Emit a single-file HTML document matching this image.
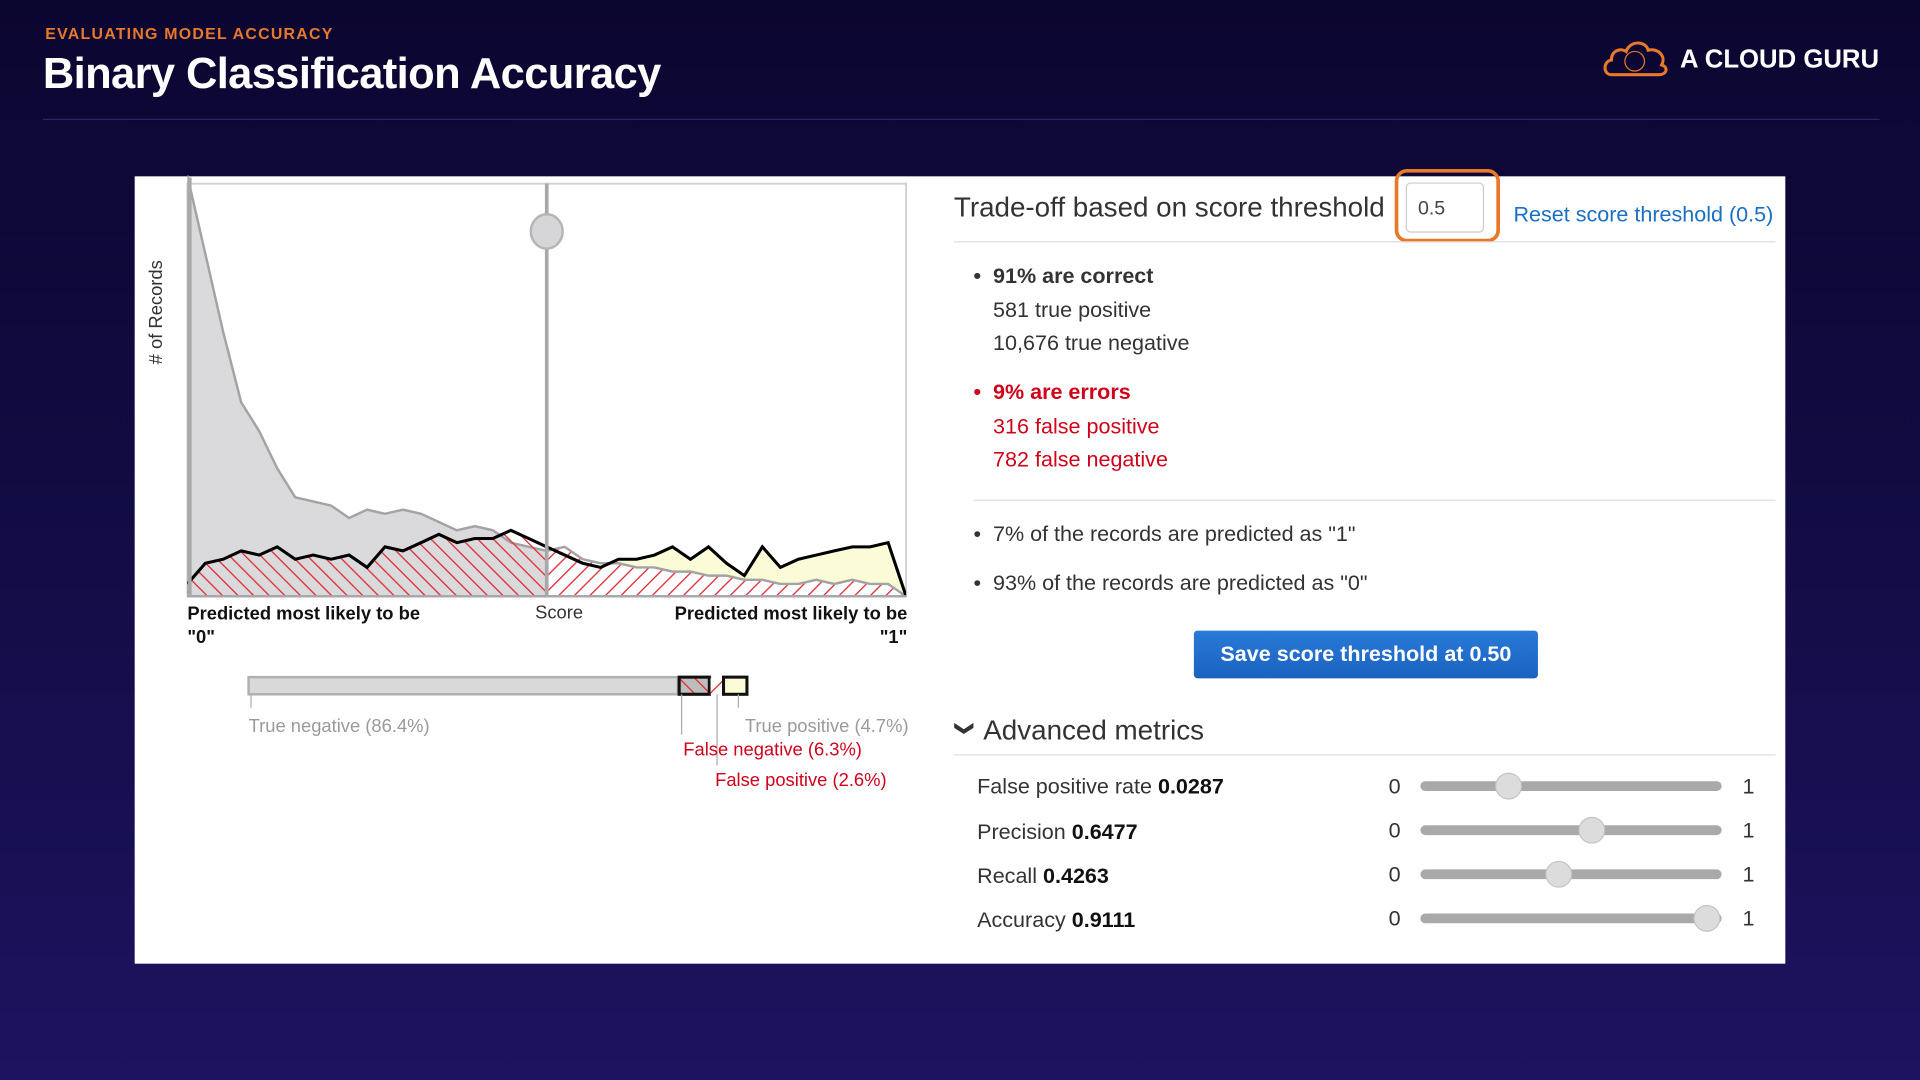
<!DOCTYPE html>
<html><head><meta charset="utf-8"><style>
html,body{margin:0;padding:0;width:1920px;height:1080px;overflow:hidden;background:#120c40;}
#stage{position:absolute;left:0;top:0;width:1568px;height:882px;transform:scale(1.22449);transform-origin:0 0;background:linear-gradient(180deg,#0b0630 0%,#130c45 50%,#1d1360 100%);font-family:"Liberation Sans",Arial,sans-serif;}
.abs{position:absolute;white-space:nowrap;}
.txt{font-size:17.6px;color:#333;}
.red{color:#d0021b;}
.hr{position:absolute;height:1px;background:#ddd;}
.track{position:absolute;left:1160px;width:246px;height:8px;border-radius:4px;background:#a9a9a9;}
.knob{position:absolute;width:20px;height:20px;border-radius:50%;background:#dcdcdc;border:1px solid #c4c4c4;margin-left:-11px;top:-7px;}
</style></head><body>
<div id="stage">
  <div class="abs" style="left:37px;top:20px;color:#e8782a;font-weight:bold;font-size:13px;letter-spacing:1px;">EVALUATING MODEL ACCURACY</div>
  <div class="abs" style="left:35px;top:40px;color:#fff;font-weight:bold;font-size:35.5px;letter-spacing:-0.5px;">Binary Classification Accuracy</div>
  <svg class="abs" style="left:1308px;top:30px;" width="56" height="34" viewBox="0 0 56 34">
    <path d="M8 31 C1 31 1 20 8 19 C8 11 16 9 20 12 C23 3 36 3 38 11 C46 9 53 16 49 23 C55 25 53 31 47 31 Z" fill="none" stroke="#e8782a" stroke-width="2.5"/>
    <circle cx="27" cy="20" r="8" fill="none" stroke="#e8782a" stroke-width="1"/>
  </svg>
  <div class="abs" style="left:1372px;top:37px;color:#fff;font-weight:bold;font-size:21px;">A CLOUD GURU</div>
  <div class="abs" style="left:35px;top:97px;width:1500px;height:1px;background:#2b2566;"></div>

  <div class="abs" style="left:110px;top:144px;width:1348px;height:643px;background:#fff;"></div>

  <svg class="abs" id="chart" style="left:0;top:0;" width="1568" height="882">
    <defs>
      <pattern id="hatchL" patternUnits="userSpaceOnUse" width="9" height="9" patternTransform="rotate(-45)">
        <rect width="9" height="9" fill="none"/><line x1="0" y1="0" x2="0" y2="9" stroke="#e0303a" stroke-width="2.2"/>
      </pattern>
      <pattern id="hatchR" patternUnits="userSpaceOnUse" width="9" height="9" patternTransform="rotate(45)">
        <rect width="9" height="9" fill="#fff"/><line x1="0" y1="0" x2="0" y2="9" stroke="#e0303a" stroke-width="2.2"/>
      </pattern>
      <clipPath id="clipL"><rect x="153" y="140" width="294" height="348"/></clipPath>
      <clipPath id="clipR"><rect x="447" y="140" width="293" height="348"/></clipPath>
    </defs>
  </svg>

  <div class="abs" style="left:128px;top:255px;font-size:15px;color:#333;transform:translate(-50%,-50%) rotate(-90deg);">#&nbsp;of Records</div>
  <div class="abs" style="left:153px;top:492px;font-size:15px;font-weight:bold;color:#111;line-height:19px;">Predicted most likely to be<br>"0"</div>
  <div class="abs" style="left:437px;top:492px;font-size:15px;color:#333;">Score</div>
  <div class="abs" style="left:520px;width:221px;top:492px;font-size:15px;font-weight:bold;color:#111;line-height:19px;text-align:right;">Predicted most likely to be<br>"1"</div>

  <svg class="abs" id="legendbar" style="left:0;top:0;" width="1568" height="882"></svg>
  <div class="abs" style="left:203px;top:585px;font-size:15px;color:#9a9a9a;">True negative (86.4%)</div>
  <div class="abs" style="left:560px;width:182px;text-align:right;top:585px;font-size:15px;color:#9a9a9a;">True positive (4.7%)</div>
  <div class="abs red" style="left:558px;top:604px;font-size:15px;">False negative (6.3%)</div>
  <div class="abs red" style="left:584px;top:629px;font-size:15px;">False positive (2.6%)</div>

  <div class="abs" style="left:779px;top:156px;font-size:22.7px;color:#333;width:362px;overflow:hidden;">Trade-off based on score threshold</div>
  <div class="abs" style="left:1139px;top:138px;width:80px;height:54px;border:3px solid #e8782a;border-radius:10px;"></div>
  <div class="abs" style="left:1148px;top:149px;width:64px;height:41px;border:1px solid #ccc;border-radius:4px;background:#fff;box-sizing:border-box;font-size:16px;color:#444;padding:12px 0 0 9px;">0.5</div>
  <div class="abs" style="left:1236px;top:165px;font-size:17.6px;color:#1a6fc4;">Reset score threshold (0.5)</div>
  <div class="hr" style="left:779px;top:197px;width:671px;"></div>

  <div class="abs txt" style="left:795px;top:215px;font-weight:bold;">•&nbsp; 91% are correct</div>
  <div class="abs txt" style="left:811px;top:243px;">581 true positive</div>
  <div class="abs txt" style="left:811px;top:270px;">10,676 true negative</div>
  <div class="abs txt red" style="left:795px;top:310px;font-weight:bold;color:#d0021b;">•&nbsp; 9% are errors</div>
  <div class="abs txt red" style="left:811px;top:338px;color:#d0021b;">316 false positive</div>
  <div class="abs txt red" style="left:811px;top:365px;color:#d0021b;">782 false negative</div>
  <div class="hr" style="left:795px;top:408px;width:655px;"></div>
  <div class="abs txt" style="left:795px;top:426px;">•&nbsp; 7% of the records are predicted as "1"</div>
  <div class="abs txt" style="left:795px;top:466px;">•&nbsp; 93% of the records are predicted as "0"</div>

  <div class="abs" style="left:975px;top:515px;width:281px;height:39px;background:linear-gradient(#2a7ad8,#1a62c0);border-radius:3px;color:#fff;font-weight:bold;font-size:17.6px;text-align:center;line-height:39px;">Save score threshold at 0.50</div>

  <div class="abs" style="left:781px;top:585px;font-size:15px;color:#333;transform:rotate(90deg);transform-origin:50% 55%;font-weight:bold;">&#10095;</div>
  <div class="abs" style="left:803px;top:583px;font-size:22.7px;color:#333;">Advanced metrics</div>
  <div class="hr" style="left:779px;top:616px;width:671px;"></div>

  <div class="abs txt" style="left:798px;top:632px;">False positive rate <b style="color:#111">0.0287</b></div>
  <div class="abs txt" style="left:798px;top:669px;">Precision <b style="color:#111">0.6477</b></div>
  <div class="abs txt" style="left:798px;top:705px;">Recall <b style="color:#111">0.4263</b></div>
  <div class="abs txt" style="left:798px;top:741px;">Accuracy <b style="color:#111">0.9111</b></div>

  <div class="abs txt" style="left:1134px;top:632px;">0</div>
  <div class="abs txt" style="left:1134px;top:668px;">0</div>
  <div class="abs txt" style="left:1134px;top:704px;">0</div>
  <div class="abs txt" style="left:1134px;top:740px;">0</div>
  <div class="abs txt" style="left:1423px;top:632px;">1</div>
  <div class="abs txt" style="left:1423px;top:668px;">1</div>
  <div class="abs txt" style="left:1423px;top:704px;">1</div>
  <div class="abs txt" style="left:1423px;top:740px;">1</div>

  <div class="track" style="top:638px;"><div class="knob" style="left:72px;"></div></div>
  <div class="track" style="top:674px;"><div class="knob" style="left:140px;"></div></div>
  <div class="track" style="top:710px;"><div class="knob" style="left:113px;"></div></div>
  <div class="track" style="top:746px;"><div class="knob" style="left:234px;"></div></div>
</div>
<script>
// score bins (0..1 step 0.025)
const scores = [0,0.025,0.05,0.075,0.1,0.125,0.15,0.175,0.2,0.225,0.25,0.275,0.3,0.325,0.35,0.375,0.4,0.425,0.45,0.475,0.5,0.525,0.55,0.575,0.6,0.625,0.65,0.675,0.7,0.725,0.75,0.775,0.8,0.825,0.85,0.875,0.9,0.925,0.95,0.975,1];
// relative count of actual negatives per score bin
const negativeCounts = [1.02,0.83,0.64,0.47,0.40,0.31,0.24,0.23,0.22,0.19,0.21,0.20,0.21,0.20,0.18,0.16,0.17,0.16,0.13,0.12,0.11,0.12,0.09,0.08,0.08,0.07,0.07,0.06,0.06,0.05,0.05,0.04,0.04,0.03,0.03,0.04,0.03,0.04,0.03,0.03,0];
// relative count of actual positives per score bin
const positiveCounts = [0.03,0.08,0.09,0.11,0.10,0.12,0.09,0.10,0.09,0.10,0.07,0.12,0.11,0.13,0.15,0.13,0.14,0.14,0.16,0.14,0.12,0.10,0.08,0.07,0.09,0.09,0.10,0.12,0.09,0.12,0.08,0.05,0.12,0.07,0.09,0.10,0.11,0.12,0.12,0.13,0];
const threshold = [0.5];
// confusion bar shares (%)
const confusionLabels = ["True negative","False negative","False positive","True positive"];
const confusionShares = [86.4,6.3,2.6,4.7];

const NS = "http://www.w3.org/2000/svg";
const X0=153, X1=740, Y0=487, Y1=150;
const xs = s => X0 + s*(X1-X0);
const ys = v => Y0 - v*(Y0-Y1);
const svg = document.getElementById('chart');
function mk(tag, attrs){const e=document.createElementNS(NS,tag);for(const k in attrs)e.setAttribute(k,attrs[k]);return e;}
function linePts(vals){return scores.map((s,i)=>xs(s).toFixed(1)+','+ys(vals[i]).toFixed(1)).join(' ');}
function areaPts(vals){return xs(scores[0])+','+Y0+' '+linePts(vals)+' '+xs(scores[scores.length-1])+','+Y0;}

const frame = mk('rect',{x:X0,y:Y1,width:X1-X0,height:Y0-Y1,fill:'#fff',stroke:'#cfcfcf','stroke-width':1.5});


svg.appendChild(frame);

const gL = mk('g',{'clip-path':'url(#clipL)'});


const negAreaL = mk('polygon',{points:areaPts(negativeCounts),fill:'#dadadd',stroke:'#a3a3a3','stroke-width':2});


gL.appendChild(negAreaL);
const posAreaL = mk('polygon',{points:areaPts(positiveCounts),fill:'url(#hatchL)',stroke:'none'});


gL.appendChild(posAreaL);
const posLineL = mk('polyline',{points:linePts(positiveCounts),fill:'none',stroke:'#000','stroke-width':2.5});


gL.appendChild(posLineL);
svg.appendChild(gL);

const gR = mk('g',{'clip-path':'url(#clipR)'});


const posAreaR = mk('polygon',{points:areaPts(positiveCounts),fill:'#fbfbd8',stroke:'none'});


gR.appendChild(posAreaR);
const negAreaR = mk('polygon',{points:areaPts(negativeCounts),fill:'url(#hatchR)',stroke:'#a3a3a3','stroke-width':2});


gR.appendChild(negAreaR);
const posLineR = mk('polyline',{points:linePts(positiveCounts),fill:'none',stroke:'#000','stroke-width':2.5});


gR.appendChild(posLineR);
svg.appendChild(gR);

const yAxis = mk('line',{x1:X0+2,y1:Y1-5,x2:X0+2,y2:Y0,stroke:'#a8a8a8','stroke-width':3});


svg.appendChild(yAxis);
const xAxis = mk('line',{x1:X0,y1:Y0,x2:X1,y2:Y0,stroke:'#a8a8a8','stroke-width':2});


svg.appendChild(xAxis);

const tx = xs(threshold[0]);
const tLine = mk('line',{x1:tx,y1:Y1,x2:tx,y2:Y0,stroke:'#a8a8a8','stroke-width':3});


svg.appendChild(tLine);
const tKnob = mk('ellipse',{cx:tx,cy:189,rx:13,ry:14,fill:'#d6d6d8',stroke:'#b5b5b5','stroke-width':2});


svg.appendChild(tKnob);

const lb = document.getElementById('legendbar');
lb.appendChild(svg.querySelector('defs').cloneNode(true));
const BX=203, BW=407, BY=553, BH=14;
const fills = ['#d9d9d9','url(#hatchL)','url(#hatchR)','#fbfbd8'];
const strokes = ['#b0b0b0','#111','none','#111'];
const names = ['tn-segment','fn-segment','fp-segment','tp-segment'];
const total = confusionShares.reduce((a,b)=>a+b,0);
let cx = BX;
const tickTops = [];
confusionShares.forEach((v,i)=>{
  const w = v/total*BW;
  if(i===1){const bg=mk('rect',{x:cx,y:BY,width:w,height:BH,fill:'#bdbdbd'});lb.appendChild(bg);}
  const r = mk('rect',{x:cx,y:BY,width:Math.max(w-(i==3?0:1),1),height:BH,fill:fills[i],stroke:strokes[i],'stroke-width':i===0?2:2.5});
  
  
  lb.appendChild(r);
  tickTops.push(i===3?cx+w-7:cx+(i===2?w/2:2));
  cx += w;
});
const tickEnds=[578,600,625,578];
tickTops.forEach((x,i)=>{
  const l = mk('line',{x1:x,y1:BY+BH,x2:x,y2:tickEnds[i],stroke:'#aaa','stroke-width':1});
  
  
  lb.appendChild(l);
});
</script>
</body></html>
